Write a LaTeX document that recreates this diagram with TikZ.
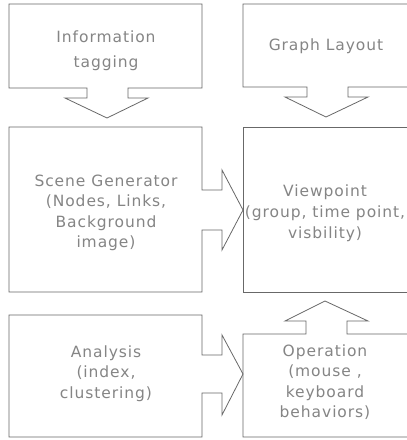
\documentclass[tikz,border=0pt]{standalone}
\usepackage{fontspec}
\setmainfont{DejaVu Sans}[LetterSpace=6]
\definecolor{linec}{HTML}{686868}
\definecolor{textc}{HTML}{858585}
\tikzset{
  boxline/.style={draw=linec, line width=0.8pt, line join=miter},
  lbl/.style={anchor=base, inner sep=0pt, text=textc, font=\fontsize{15.5}{18}\selectfont}
}
\begin{document}
\begin{tikzpicture}[x=1pt,y=-1pt]
\useasboundingbox (0,0) rectangle (407,440);
\clip (0,0) rectangle (407,440);
\fill[white] (0,0) rectangle (407,440);
% Information tagging box with down arrow
\draw[boxline] (9,4) -- (202,4) -- (202,88) -- (128,88) -- (128,98) -- (148,98) -- (107,118) -- (65,98) -- (87,98) -- (87,88) -- (9,88) -- cycle;
% Graph Layout box with down arrow
\draw[boxline] (243,4) -- (412,4) -- (412,87) -- (348,87) -- (348,97) -- (368,97) -- (326,117) -- (285,97) -- (307,97) -- (307,87) -- (243,87) -- cycle;
% Scene Generator box with right arrow
\draw[boxline] (9,127) -- (202,127) -- (202,190) -- (222,190) -- (222,170) -- (243,210) -- (222,250) -- (222,230) -- (202,230) -- (202,292) -- (9,292) -- cycle;
% Viewpoint box
\draw[boxline] (243,127) rectangle (412,292);
% Analysis box with right arrow
\draw[boxline] (9,315) -- (202,315) -- (202,355) -- (222,355) -- (222,335) -- (243,374) -- (222,415) -- (222,393) -- (202,393) -- (202,437) -- (9,437) -- cycle;
% Operation box with up arrow
\draw[boxline] (243,437) -- (243,334) -- (306,334) -- (306,321) -- (285,321) -- (325,301) -- (368,321) -- (347,321) -- (347,334) -- (412,334) -- (412,437) -- cycle;
% texts
\node[lbl] (info1) at (106,42) {Information};
\node[lbl] (info2) at (106,67) {tagging};
\node[lbl] (graph) at (326,50) {Graph Layout};
\node[lbl] (scene1) at (106,186) {Scene Generator};
\node[lbl] (scene2) at (106,206.5) {(Nodes, Links,};
\node[lbl] (scene3) at (106,227) {Background};
\node[lbl] (scene4) at (106,247.5) {image)};
\node[lbl] (view1) at (325,196) {Viewpoint};
\node[lbl] (view2) at (325,217) {(group, time point,};
\node[lbl] (view3) at (325,238) {visbility)};
\node[lbl] (ana1) at (106,357) {Analysis};
\node[lbl] (ana2) at (106,377.5) {(index,};
\node[lbl] (ana3) at (106,398) {clustering)};
\node[lbl] (op1) at (325,356) {Operation};
\node[lbl] (op2) at (325,376.5) {(mouse ,};
\node[lbl] (op3) at (325,397) {keyboard};
\node[lbl] (op4) at (325,417.5) {behaviors)};
\end{tikzpicture}
\end{document}
